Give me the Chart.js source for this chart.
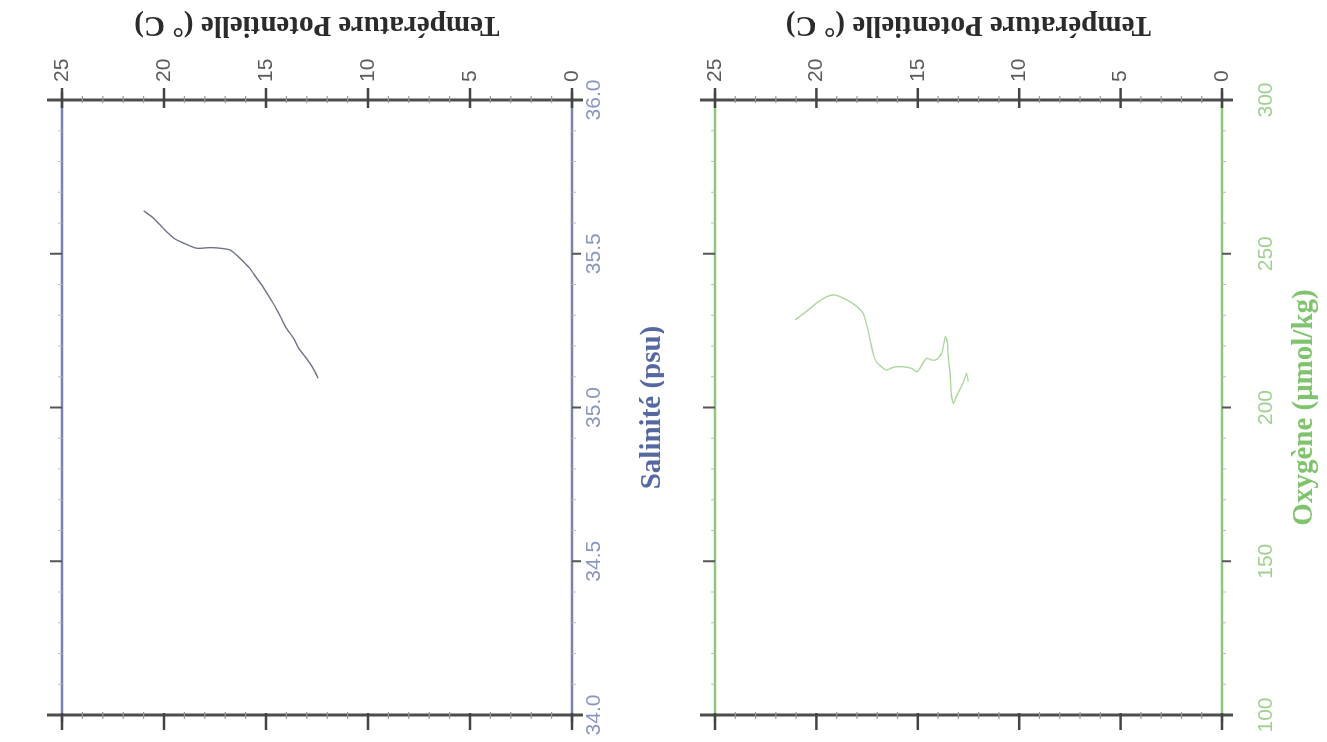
<!DOCTYPE html>
<html lang="fr">
<head>
<meta charset="utf-8">
<script src="https://cdn.jsdelivr.net/npm/chart.js@4.4.1/dist/chart.umd.min.js"></script>
<style>
  html, body { margin: 0; padding: 0; background: #fff; width: 1327px; height: 742px; overflow: hidden; }
  /* la figure d'origine est tournée de 90° */
  #tourne { position: absolute; left: 0; top: 0; width: 742px; height: 1327px;
            transform-origin: 0 0; transform: translate(0px, 742px) rotate(-90deg); }
  .panneau { position: relative; width: 742px; }
  #p-sal { height: 664px; }
  #p-oxy { height: 663px; }
</style>
</head>
<body>
<div id="tourne">
  <div class="panneau" id="p-sal"><canvas id="chartSal"></canvas></div>
  <div class="panneau" id="p-oxy"><canvas id="chartOxy"></canvas></div>
</div>
<script>
// profil température / salinité
const tempSal = [21.0, 20.5, 20.0, 19.5, 19.05, 18.4, 17.75, 17.25, 16.75, 16.45, 16.1, 15.8, 15.45, 15.15, 14.8, 14.5, 14.25, 14.0, 13.65, 13.4, 13.15, 12.85, 12.6, 12.45];
const salinite = [35.64, 35.615, 35.58, 35.55, 35.535, 35.518, 35.52, 35.518, 35.512, 35.496, 35.474, 35.453, 35.42, 35.393, 35.355, 35.322, 35.29, 35.258, 35.225, 35.193, 35.171, 35.144, 35.117, 35.095];

// profil température / oxygène
const tempOxy = [21.05, 20.5, 20.0, 19.5, 19.1, 18.5, 18.0, 17.7, 17.5, 17.35, 17.2, 17.05, 16.8, 16.55, 16.2, 15.9, 15.55, 15.3, 15.05, 14.9, 14.75, 14.55, 14.3, 14.05, 13.8, 13.65, 13.55, 13.5, 13.4, 13.35, 13.25, 13.1, 12.85, 12.65, 12.6, 12.5];
const oxygene = [228.5, 231.2, 233.9, 236.0, 236.6, 235.0, 232.8, 230.6, 226.3, 222.0, 217.6, 214.9, 213.3, 212.2, 213.1, 213.3, 213.1, 212.7, 211.6, 212.7, 214.4, 216.0, 215.4, 215.7, 218.1, 223.0, 221.4, 216.5, 210.0, 204.6, 201.4, 203.5, 206.8, 210.0, 211.1, 208.4];

// graduations
const ticksTemp = [0, 5, 10, 15, 20, 25];
const ticksSal = [34.0, 34.5, 35.0, 35.5, 36.0];
const ticksOxy = [100, 150, 200, 250, 300];

Chart.defaults.font.family = "'Liberation Sans', Arial, sans-serif";

// cadre : lignes prolongées, graduations mineures et titre de l'axe température
const cadre = {
  id: "cadre",
  afterDraw(chart, args, opts) {
    const ctx = chart.ctx;
    const a = chart.chartArea;
    const sx = chart.scales.x, sy = chart.scales.y;
    const trait = (x1, y1, x2, y2) => { ctx.beginPath(); ctx.moveTo(x1, y1); ctx.lineTo(x2, y2); ctx.stroke(); };
    ctx.save();

    // bords de l'axe x (couleur du paramètre)
    ctx.strokeStyle = opts.couleur;
    ctx.lineWidth = 2.5;
    trait(a.left - 7, a.top, a.right + 8, a.top);
    trait(a.left - 7, a.bottom, a.right + 8, a.bottom);

    // axes température (gris)
    ctx.strokeStyle = "#4d4d4d";
    ctx.lineWidth = 3;
    trait(a.right, a.top - 15, a.right, a.bottom + 11);
    trait(a.left, a.top - 15, a.left, a.bottom + 11);

    // graduations température
    let n = Math.round((sy.max - sy.min) / opts.pasY);
    for (let i = 0; i <= n; i++) {
      const v = sy.min + i * opts.pasY;
      const py = sy.getPixelForValue(v);
      const maj = Math.abs(v / 5 - Math.round(v / 5)) < 1e-6;
      ctx.lineWidth = maj ? 2.5 : 1.2;
      ctx.strokeStyle = maj ? "#444" : "#999";
      if (maj) {
        trait(a.right - 8, py, a.right + 12, py);
        trait(a.left - 15, py, a.left + 2, py);
      } else {
        trait(a.right - 3, py, a.right + 4, py);
        trait(a.left - 4, py, a.left + 3, py);
      }
    }

    // graduations x
    n = Math.round((sx.max - sx.min) / opts.pasX);
    for (let i = 1; i < n; i++) {
      const v = sx.min + i * opts.pasX;
      const px = sx.getPixelForValue(v);
      const maj = Math.abs(v / opts.majX - Math.round(v / opts.majX)) < 1e-6;
      ctx.lineWidth = maj ? 2 : 1;
      ctx.strokeStyle = maj ? "#555" : "#bbb";
      trait(px, a.bottom, px, a.bottom + (maj ? 9 : 4));
      trait(px, a.top - (maj ? 12 : 4), px, a.top);
    }

    // titre température, à l'envers une fois la figure tournée
    ctx.fillStyle = "#2b2b2b";
    ctx.font = "bold 29px 'Liberation Serif', serif";
    ctx.textAlign = "center";
    ctx.textBaseline = "middle";
    ctx.translate(718, (a.top + a.bottom) / 2);
    ctx.rotate(-Math.PI / 2);
    ctx.fillText("Température Potentielle (° C)", 0, 0);
    ctx.restore();
  }
};

function creerPanneau(idCanvas, cfg) {
  const points = cfg.x.map((v, i) => ({ x: v, y: cfg.t[i] }));
  return new Chart(document.getElementById(idCanvas), {
    type: "line",
    data: {
      datasets: [{
        data: points,
        borderColor: cfg.couleurLigne,
        borderWidth: 1.4,
        pointRadius: 0,
        tension: 0.25,
        fill: false
      }]
    },
    options: {
      responsive: true,
      maintainAspectRatio: false,
      animation: false,
      layout: { padding: 0 },
      plugins: {
        legend: { display: false },
        tooltip: { enabled: false },
        cadre: { couleur: cfg.couleur, pasX: cfg.pasX, majX: cfg.majX, pasY: 1 }
      },
      scales: {
        x: {
          type: "linear",
          position: "bottom",
          min: cfg.min,
          max: cfg.max,
          afterBuildTicks: s => { s.ticks = cfg.ticks.map(v => ({ value: v })); },
          afterFit: s => { s.height = cfg.basX; s.paddingLeft = 0; s.paddingRight = 0; },
          grid: { display: false, drawTicks: false },
          border: { display: false },
          ticks: {
            color: cfg.couleurTicks,
            font: { size: 21 },
            padding: cfg.padX,
            maxRotation: 0,
            autoSkip: false,
            callback: v => cfg.fmt(v)
          },
          title: {
            display: true,
            text: cfg.titre,
            color: cfg.couleurTitre,
            font: { family: "'Liberation Serif', serif", weight: "bold", size: 29, lineHeight: 0.76 },
            padding: { top: 0, bottom: cfg.padTitre }
          }
        },
        x2: {
          type: "linear",
          position: "top",
          min: cfg.min,
          max: cfg.max,
          afterFit: s => { s.height = cfg.hautX; s.paddingLeft = 0; s.paddingRight = 0; },
          grid: { display: false, drawTicks: false },
          border: { display: false },
          ticks: { display: false }
        },
        y: {
          type: "linear",
          position: "right",
          min: 0,
          max: 25,
          afterBuildTicks: s => { s.ticks = ticksTemp.map(v => ({ value: v })); },
          afterFit: s => { s.width = 100; },
          grid: { display: false, drawTicks: false },
          border: { display: false },
          ticks: { color: "#5a5a5a", font: { size: 21 }, padding: 18, crossAlign: "near" }
        },
        y2: {
          type: "linear",
          position: "left",
          min: 0,
          max: 25,
          afterFit: s => { s.width = 27; },
          grid: { display: false, drawTicks: false },
          border: { display: false },
          ticks: { display: false }
        }
      }
    },
    plugins: [cadre]
  });
}

creerPanneau("chartSal", {
  x: salinite, t: tempSal,
  min: 34, max: 36, ticks: ticksSal, pasX: 0.1, majX: 0.5,
  fmt: v => v.toFixed(1),
  titre: "Salinité (psu)",
  couleur: "#7984ae", couleurTicks: "#8a95c0", couleurTitre: "#5668a2",
  couleurLigne: "#6f748c",
  basX: 92, hautX: 62, padX: 10, padTitre: 0
});

creerPanneau("chartOxy", {
  x: oxygene, t: tempOxy,
  min: 100, max: 300, ticks: ticksOxy, pasX: 10, majX: 50,
  fmt: v => String(v),
  titre: "Oxygène (μmol/kg)",
  couleur: "#8cc77a", couleurTicks: "#9fd08e", couleurTitre: "#7fc46c",
  couleurLigne: "#acd79e",
  basX: 105, hautX: 51, padX: 32, padTitre: 11
});
</script>
</body>
</html>
